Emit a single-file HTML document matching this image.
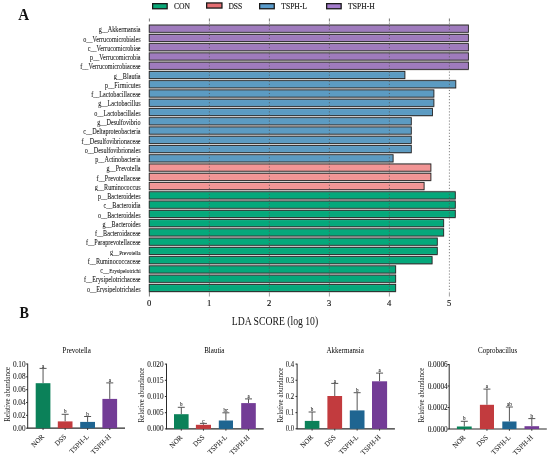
<!DOCTYPE html><html><head><meta charset="utf-8"><style>html,body{margin:0;padding:0;background:#fff;}svg{display:block;}text{filter:grayscale(1);}text{font-family:"Liberation Serif", serif;}</style></head><body>
<svg width="550" height="458" viewBox="0 0 550 458">
<rect width="550" height="458" fill="#fff"/>
<text transform="translate(18.20,20.20) scale(1,1.09)" font-size="15.1" font-weight="bold" fill="#111">A</text>
<text transform="translate(19.60,317.70) scale(1,1.12)" font-size="14.2" font-weight="bold" fill="#111">B</text>
<rect x="152.65" y="3.65" width="14.50000000000001" height="5.1000000000000005" fill="#0aa878" stroke="#1a1a1a" stroke-width="1.3"/>
<text transform="translate(174.00,9.45) scale(1,1.12)" font-size="7.6" fill="#1a1a1a" stroke="#1a1a1a" stroke-width="0.15">CON</text>
<rect x="206.65" y="2.9499999999999997" width="15.299999999999994" height="5.1000000000000005" fill="#e46e72" stroke="#1a1a1a" stroke-width="1.3"/>
<text transform="translate(228.40,9.45) scale(1,1.12)" font-size="7.6" fill="#1a1a1a" stroke="#1a1a1a" stroke-width="0.15">DSS</text>
<rect x="259.65" y="3.65" width="14.599999999999977" height="5.1000000000000005" fill="#5a9ccc" stroke="#1a1a1a" stroke-width="1.3"/>
<text transform="translate(281.30,9.45) scale(1,1.12)" font-size="7.6" fill="#1a1a1a" stroke="#1a1a1a" stroke-width="0.15">TSPH-L</text>
<rect x="326.65" y="3.65" width="14.50000000000001" height="5.1000000000000005" fill="#a47ccc" stroke="#1a1a1a" stroke-width="1.3"/>
<text transform="translate(348.10,9.45) scale(1,1.12)" font-size="7.6" fill="#1a1a1a" stroke="#1a1a1a" stroke-width="0.15">TSPH-H</text>
<defs>
<linearGradient id="g9f7bbd" x1="0" y1="0" x2="0" y2="1"><stop offset="0" stop-color="#b092c8"/><stop offset="0.2" stop-color="#9f7bbd"/><stop offset="0.8" stop-color="#9f7bbd"/><stop offset="1" stop-color="#a888c3"/></linearGradient>
<linearGradient id="g5c9bc2" x1="0" y1="0" x2="0" y2="1"><stop offset="0" stop-color="#79adcc"/><stop offset="0.2" stop-color="#5c9bc2"/><stop offset="0.8" stop-color="#5c9bc2"/><stop offset="1" stop-color="#6ca5c8"/></linearGradient>
<linearGradient id="gf29595" x1="0" y1="0" x2="0" y2="1"><stop offset="0" stop-color="#f4a8a8"/><stop offset="0.2" stop-color="#f29595"/><stop offset="0.8" stop-color="#f29595"/><stop offset="1" stop-color="#f39f9f"/></linearGradient>
<linearGradient id="g05a87b" x1="0" y1="0" x2="0" y2="1"><stop offset="0" stop-color="#32b792"/><stop offset="0.2" stop-color="#05a87b"/><stop offset="0.8" stop-color="#05a87b"/><stop offset="1" stop-color="#1eb088"/></linearGradient>
</defs>
<rect x="148.80" y="24.07" width="320.00" height="9.27" fill="#c4c0c0"/>
<rect x="149.23" y="25.12" width="319.15" height="7.16" fill="url(#g9f7bbd)" stroke="#222" stroke-width="0.85"/>
<text transform="translate(140.60,32.41) scale(1,1.18)" font-size="6.15" text-anchor="end" fill="#1a1a1a" stroke="#1a1a1a" stroke-width="0.07">g__Akkermansia</text>
<rect x="148.80" y="33.33" width="320.00" height="9.27" fill="#c4c0c0"/>
<rect x="149.23" y="34.38" width="319.15" height="7.16" fill="url(#g9f7bbd)" stroke="#222" stroke-width="0.85"/>
<text transform="translate(140.60,41.67) scale(1,1.18)" font-size="6.15" text-anchor="end" fill="#1a1a1a" stroke="#1a1a1a" stroke-width="0.07">o__Verrucomicrobiales</text>
<rect x="148.80" y="42.59" width="320.00" height="9.27" fill="#c4c0c0"/>
<rect x="149.23" y="43.64" width="319.15" height="7.16" fill="url(#g9f7bbd)" stroke="#222" stroke-width="0.85"/>
<text transform="translate(140.60,50.93) scale(1,1.18)" font-size="6.15" text-anchor="end" fill="#1a1a1a" stroke="#1a1a1a" stroke-width="0.07">c__Verrucomicrobiae</text>
<rect x="148.80" y="51.85" width="320.00" height="9.27" fill="#c4c0c0"/>
<rect x="149.23" y="52.91" width="319.15" height="7.16" fill="url(#g9f7bbd)" stroke="#222" stroke-width="0.85"/>
<text transform="translate(140.60,60.19) scale(1,1.18)" font-size="6.15" text-anchor="end" fill="#1a1a1a" stroke="#1a1a1a" stroke-width="0.07">p__Verrucomicrobia</text>
<rect x="148.80" y="61.11" width="320.00" height="9.27" fill="#c4c0c0"/>
<rect x="149.23" y="62.16" width="319.15" height="7.16" fill="url(#g9f7bbd)" stroke="#222" stroke-width="0.85"/>
<text transform="translate(140.60,69.44) scale(1,1.18)" font-size="6.15" text-anchor="end" fill="#1a1a1a" stroke="#1a1a1a" stroke-width="0.07">f__Verrucomicrobiaceae</text>
<rect x="148.80" y="70.37" width="256.50" height="9.27" fill="#c4c0c0"/>
<rect x="149.23" y="71.42" width="255.65" height="7.16" fill="url(#g5c9bc2)" stroke="#222" stroke-width="0.85"/>
<text transform="translate(140.60,78.70) scale(1,1.18)" font-size="6.15" text-anchor="end" fill="#1a1a1a" stroke="#1a1a1a" stroke-width="0.07">g__Blautia</text>
<rect x="148.80" y="79.63" width="307.40" height="9.27" fill="#c4c0c0"/>
<rect x="149.23" y="80.69" width="306.55" height="7.16" fill="url(#g5c9bc2)" stroke="#222" stroke-width="0.85"/>
<text transform="translate(140.60,87.97) scale(1,1.18)" font-size="6.15" text-anchor="end" fill="#1a1a1a" stroke="#1a1a1a" stroke-width="0.07">p__Firmicutes</text>
<rect x="148.80" y="88.89" width="285.50" height="9.27" fill="#c4c0c0"/>
<rect x="149.23" y="89.94" width="284.65" height="7.16" fill="url(#g5c9bc2)" stroke="#222" stroke-width="0.85"/>
<text transform="translate(140.60,97.22) scale(1,1.18)" font-size="6.15" text-anchor="end" fill="#1a1a1a" stroke="#1a1a1a" stroke-width="0.07">f__Lactobacillaceae</text>
<rect x="148.80" y="98.15" width="285.50" height="9.27" fill="#c4c0c0"/>
<rect x="149.23" y="99.20" width="284.65" height="7.16" fill="url(#g5c9bc2)" stroke="#222" stroke-width="0.85"/>
<text transform="translate(140.60,106.48) scale(1,1.18)" font-size="6.15" text-anchor="end" fill="#1a1a1a" stroke="#1a1a1a" stroke-width="0.07">g__Lactobacillus</text>
<rect x="148.80" y="107.41" width="284.10" height="9.27" fill="#c4c0c0"/>
<rect x="149.23" y="108.47" width="283.25" height="7.16" fill="url(#g5c9bc2)" stroke="#222" stroke-width="0.85"/>
<text transform="translate(140.60,115.75) scale(1,1.18)" font-size="6.15" text-anchor="end" fill="#1a1a1a" stroke="#1a1a1a" stroke-width="0.07">o__Lactobacillales</text>
<rect x="148.80" y="116.67" width="262.90" height="9.27" fill="#c4c0c0"/>
<rect x="149.23" y="117.72" width="262.05" height="7.16" fill="url(#g5c9bc2)" stroke="#222" stroke-width="0.85"/>
<text transform="translate(140.60,125.00) scale(1,1.18)" font-size="6.15" text-anchor="end" fill="#1a1a1a" stroke="#1a1a1a" stroke-width="0.07">g__Desulfovibrio</text>
<rect x="148.80" y="125.93" width="262.90" height="9.27" fill="#c4c0c0"/>
<rect x="149.23" y="126.98" width="262.05" height="7.16" fill="url(#g5c9bc2)" stroke="#222" stroke-width="0.85"/>
<text transform="translate(140.60,134.26) scale(1,1.18)" font-size="6.15" text-anchor="end" fill="#1a1a1a" stroke="#1a1a1a" stroke-width="0.07">c__Deltaproteobacteria</text>
<rect x="148.80" y="135.19" width="262.90" height="9.27" fill="#c4c0c0"/>
<rect x="149.23" y="136.25" width="262.05" height="7.16" fill="url(#g5c9bc2)" stroke="#222" stroke-width="0.85"/>
<text transform="translate(140.60,143.52) scale(1,1.18)" font-size="6.15" text-anchor="end" fill="#1a1a1a" stroke="#1a1a1a" stroke-width="0.07">f__Desulfovibrionaceae</text>
<rect x="148.80" y="144.45" width="262.90" height="9.27" fill="#c4c0c0"/>
<rect x="149.23" y="145.50" width="262.05" height="7.16" fill="url(#g5c9bc2)" stroke="#222" stroke-width="0.85"/>
<text transform="translate(140.60,152.78) scale(1,1.18)" font-size="6.15" text-anchor="end" fill="#1a1a1a" stroke="#1a1a1a" stroke-width="0.07">o__Desulfovibrionales</text>
<rect x="148.80" y="153.71" width="244.70" height="9.27" fill="#c4c0c0"/>
<rect x="149.23" y="154.76" width="243.85" height="7.16" fill="url(#g5c9bc2)" stroke="#222" stroke-width="0.85"/>
<text transform="translate(140.60,162.04) scale(1,1.18)" font-size="6.15" text-anchor="end" fill="#1a1a1a" stroke="#1a1a1a" stroke-width="0.07">p__Actinobacteria</text>
<rect x="148.80" y="162.97" width="282.50" height="9.27" fill="#c4c0c0"/>
<rect x="149.23" y="164.03" width="281.65" height="7.16" fill="url(#gf29595)" stroke="#222" stroke-width="0.85"/>
<text transform="translate(140.60,171.30) scale(1,1.18)" font-size="6.15" text-anchor="end" fill="#1a1a1a" stroke="#1a1a1a" stroke-width="0.07">g__Prevotella</text>
<rect x="148.80" y="172.23" width="282.50" height="9.27" fill="#c4c0c0"/>
<rect x="149.23" y="173.28" width="281.65" height="7.16" fill="url(#gf29595)" stroke="#222" stroke-width="0.85"/>
<text transform="translate(140.60,180.56) scale(1,1.18)" font-size="6.15" text-anchor="end" fill="#1a1a1a" stroke="#1a1a1a" stroke-width="0.07">f__Prevotellaceae</text>
<rect x="148.80" y="181.49" width="275.70" height="9.27" fill="#c4c0c0"/>
<rect x="149.23" y="182.54" width="274.85" height="7.16" fill="url(#gf29595)" stroke="#222" stroke-width="0.85"/>
<text transform="translate(140.60,189.82) scale(1,1.18)" font-size="6.15" text-anchor="end" fill="#1a1a1a" stroke="#1a1a1a" stroke-width="0.07">g__Ruminococcus</text>
<rect x="148.80" y="190.75" width="306.90" height="9.27" fill="#c4c0c0"/>
<rect x="149.23" y="191.81" width="306.05" height="7.16" fill="url(#g05a87b)" stroke="#222" stroke-width="0.85"/>
<text transform="translate(140.60,199.08) scale(1,1.18)" font-size="6.15" text-anchor="end" fill="#1a1a1a" stroke="#1a1a1a" stroke-width="0.07">p__Bacteroidetes</text>
<rect x="148.80" y="200.01" width="306.90" height="9.27" fill="#c4c0c0"/>
<rect x="149.23" y="201.06" width="306.05" height="7.16" fill="url(#g05a87b)" stroke="#222" stroke-width="0.85"/>
<text transform="translate(140.60,208.34) scale(1,1.18)" font-size="6.15" text-anchor="end" fill="#1a1a1a" stroke="#1a1a1a" stroke-width="0.07">c__Bacteroidia</text>
<rect x="148.80" y="209.27" width="306.90" height="9.27" fill="#c4c0c0"/>
<rect x="149.23" y="210.32" width="306.05" height="7.16" fill="url(#g05a87b)" stroke="#222" stroke-width="0.85"/>
<text transform="translate(140.60,217.60) scale(1,1.18)" font-size="6.15" text-anchor="end" fill="#1a1a1a" stroke="#1a1a1a" stroke-width="0.07">o__Bacteroidales</text>
<rect x="148.80" y="218.53" width="295.30" height="9.27" fill="#c4c0c0"/>
<rect x="149.23" y="219.59" width="294.45" height="7.16" fill="url(#g05a87b)" stroke="#222" stroke-width="0.85"/>
<text transform="translate(140.60,226.86) scale(1,1.18)" font-size="6.15" text-anchor="end" fill="#1a1a1a" stroke="#1a1a1a" stroke-width="0.07">g__Bacteroides</text>
<rect x="148.80" y="227.79" width="295.30" height="9.27" fill="#c4c0c0"/>
<rect x="149.23" y="228.84" width="294.45" height="7.16" fill="url(#g05a87b)" stroke="#222" stroke-width="0.85"/>
<text transform="translate(140.60,236.12) scale(1,1.18)" font-size="6.15" text-anchor="end" fill="#1a1a1a" stroke="#1a1a1a" stroke-width="0.07">f__Bacteroidaceae</text>
<rect x="148.80" y="237.05" width="288.90" height="9.27" fill="#c4c0c0"/>
<rect x="149.23" y="238.10" width="288.05" height="7.16" fill="url(#g05a87b)" stroke="#222" stroke-width="0.85"/>
<text transform="translate(140.60,245.38) scale(1,1.18)" font-size="6.15" text-anchor="end" fill="#1a1a1a" stroke="#1a1a1a" stroke-width="0.07">f__Paraprevotellaceae</text>
<rect x="148.80" y="246.31" width="288.90" height="9.27" fill="#c4c0c0"/>
<rect x="149.23" y="247.37" width="288.05" height="7.16" fill="url(#g05a87b)" stroke="#222" stroke-width="0.85"/>
<text transform="translate(140.60,254.64) scale(1,1.18)" font-size="6.15" text-anchor="end" fill="#1a1a1a" stroke="#1a1a1a" stroke-width="0.07">g__<tspan font-size="5.3">Prevotella</tspan></text>
<rect x="148.80" y="255.57" width="283.70" height="9.27" fill="#c4c0c0"/>
<rect x="149.23" y="256.62" width="282.85" height="7.16" fill="url(#g05a87b)" stroke="#222" stroke-width="0.85"/>
<text transform="translate(140.60,263.90) scale(1,1.18)" font-size="6.15" text-anchor="end" fill="#1a1a1a" stroke="#1a1a1a" stroke-width="0.07">f__Ruminococcaceae</text>
<rect x="148.80" y="264.83" width="247.30" height="9.27" fill="#c4c0c0"/>
<rect x="149.23" y="265.88" width="246.45" height="7.16" fill="url(#g05a87b)" stroke="#222" stroke-width="0.85"/>
<text transform="translate(140.60,273.16) scale(1,1.18)" font-size="6.15" text-anchor="end" fill="#1a1a1a" stroke="#1a1a1a" stroke-width="0.07">c__<tspan font-size="5.3">Erysipelotrichi</tspan></text>
<rect x="148.80" y="274.09" width="247.30" height="9.27" fill="#c4c0c0"/>
<rect x="149.23" y="275.14" width="246.45" height="7.16" fill="url(#g05a87b)" stroke="#222" stroke-width="0.85"/>
<text transform="translate(140.60,282.42) scale(1,1.18)" font-size="6.15" text-anchor="end" fill="#1a1a1a" stroke="#1a1a1a" stroke-width="0.07">f__Erysipelotrichaceae</text>
<rect x="148.80" y="283.35" width="247.30" height="9.27" fill="#c4c0c0"/>
<rect x="149.23" y="284.40" width="246.45" height="7.16" fill="url(#g05a87b)" stroke="#222" stroke-width="0.85"/>
<text transform="translate(140.60,291.68) scale(1,1.18)" font-size="6.15" text-anchor="end" fill="#1a1a1a" stroke="#1a1a1a" stroke-width="0.07">o__Erysipelotrichales</text>
<line x1="149.4" y1="18.5" x2="149.4" y2="21.5" stroke="#555" stroke-width="0.8"/><line x1="149.4" y1="292" x2="149.4" y2="296.5" stroke="#555" stroke-width="0.8"/>
<text transform="translate(149.20,306.20) scale(1,1.02)" font-size="8.6" text-anchor="middle" fill="#111" stroke="#111" stroke-width="0.15">0</text>
<line x1="209.4" y1="18.5" x2="209.4" y2="21.5" stroke="#555" stroke-width="0.8"/><line x1="209.4" y1="292.3" x2="209.4" y2="296.5" stroke="#888" stroke-width="0.8"/>
<line x1="209.4" y1="22.6" x2="209.4" y2="292" stroke="#555" stroke-width="0.8" stroke-dasharray="1.1,1.96"/>
<text transform="translate(209.20,306.20) scale(1,1.02)" font-size="8.6" text-anchor="middle" fill="#111" stroke="#111" stroke-width="0.15">1</text>
<line x1="269.4" y1="18.5" x2="269.4" y2="21.5" stroke="#555" stroke-width="0.8"/><line x1="269.4" y1="292.3" x2="269.4" y2="296.5" stroke="#888" stroke-width="0.8"/>
<line x1="269.4" y1="22.6" x2="269.4" y2="292" stroke="#555" stroke-width="0.8" stroke-dasharray="1.1,1.96"/>
<text transform="translate(269.20,306.20) scale(1,1.02)" font-size="8.6" text-anchor="middle" fill="#111" stroke="#111" stroke-width="0.15">2</text>
<line x1="329.4" y1="18.5" x2="329.4" y2="21.5" stroke="#555" stroke-width="0.8"/><line x1="329.4" y1="292.3" x2="329.4" y2="296.5" stroke="#888" stroke-width="0.8"/>
<line x1="329.4" y1="22.6" x2="329.4" y2="292" stroke="#555" stroke-width="0.8" stroke-dasharray="1.1,1.96"/>
<text transform="translate(329.20,306.20) scale(1,1.02)" font-size="8.6" text-anchor="middle" fill="#111" stroke="#111" stroke-width="0.15">3</text>
<line x1="389.4" y1="18.5" x2="389.4" y2="21.5" stroke="#555" stroke-width="0.8"/><line x1="389.4" y1="292.3" x2="389.4" y2="296.5" stroke="#888" stroke-width="0.8"/>
<line x1="389.4" y1="22.6" x2="389.4" y2="292" stroke="#555" stroke-width="0.8" stroke-dasharray="1.1,1.96"/>
<text transform="translate(389.20,306.20) scale(1,1.02)" font-size="8.6" text-anchor="middle" fill="#111" stroke="#111" stroke-width="0.15">4</text>
<line x1="449.4" y1="18.5" x2="449.4" y2="21.5" stroke="#555" stroke-width="0.8"/><line x1="449.4" y1="292.3" x2="449.4" y2="296.5" stroke="#888" stroke-width="0.8"/>
<line x1="449.4" y1="22.6" x2="449.4" y2="292" stroke="#555" stroke-width="0.8" stroke-dasharray="1.1,1.96"/>
<text transform="translate(449.20,306.20) scale(1,1.02)" font-size="8.6" text-anchor="middle" fill="#111" stroke="#111" stroke-width="0.15">5</text>
<text transform="translate(275.00,324.90) scale(1,1.26)" font-size="9.7" text-anchor="middle" fill="#111">LDA SCORE (log 10)</text>
<text transform="translate(76.70,353.30) scale(1,1.06)" font-size="7.0" text-anchor="middle" fill="#000">Prevotella</text>
<line x1="27.7" y1="363.6" x2="27.7" y2="428.2" stroke="#2a2a2a" stroke-width="1"/>
<line x1="27.2" y1="428.2" x2="125" y2="428.2" stroke="#2a2a2a" stroke-width="1.2"/>
<line x1="26.099999999999998" y1="364.0" x2="27.7" y2="364.0" stroke="#2a2a2a" stroke-width="1"/>
<text transform="translate(25.60,366.50) scale(1,1.02)" font-size="7.25" text-anchor="end" fill="#222" stroke="#222" stroke-width="0.08">0.10</text>
<line x1="26.099999999999998" y1="376.84" x2="27.7" y2="376.84" stroke="#2a2a2a" stroke-width="1"/>
<text transform="translate(25.60,379.34) scale(1,1.02)" font-size="7.25" text-anchor="end" fill="#222" stroke="#222" stroke-width="0.08">0.08</text>
<line x1="26.099999999999998" y1="389.68" x2="27.7" y2="389.68" stroke="#2a2a2a" stroke-width="1"/>
<text transform="translate(25.60,392.18) scale(1,1.02)" font-size="7.25" text-anchor="end" fill="#222" stroke="#222" stroke-width="0.08">0.06</text>
<line x1="26.099999999999998" y1="402.52" x2="27.7" y2="402.52" stroke="#2a2a2a" stroke-width="1"/>
<text transform="translate(25.60,405.02) scale(1,1.02)" font-size="7.25" text-anchor="end" fill="#222" stroke="#222" stroke-width="0.08">0.04</text>
<line x1="26.099999999999998" y1="415.36" x2="27.7" y2="415.36" stroke="#2a2a2a" stroke-width="1"/>
<text transform="translate(25.60,417.86) scale(1,1.02)" font-size="7.25" text-anchor="end" fill="#222" stroke="#222" stroke-width="0.08">0.02</text>
<line x1="26.099999999999998" y1="428.2" x2="27.7" y2="428.2" stroke="#2a2a2a" stroke-width="1"/>
<text transform="translate(25.60,430.70) scale(1,1.02)" font-size="7.25" text-anchor="end" fill="#222" stroke="#222" stroke-width="0.08">0.00</text>
<text transform="translate(9.60,394.30) rotate(-90) scale(1,1.05)" font-size="7.0" text-anchor="middle" fill="#222">Relative abundance</text>
<line x1="43.05" y1="383.2" x2="43.05" y2="368.4" stroke="#555" stroke-width="1"/>
<line x1="39.55" y1="368.4" x2="46.55" y2="368.4" stroke="#555" stroke-width="1"/>
<rect x="35.7" y="383.2" width="14.699999999999996" height="45.0" fill="#0b8159"/>
<line x1="43.05" y1="428.2" x2="43.05" y2="430.0" stroke="#2a2a2a" stroke-width="0.9"/>
<text transform="translate(43.05,367.50) scale(1,1.12)" font-size="5.0" text-anchor="middle" fill="#222" stroke="#222" stroke-width="0.08">a</text>
<text transform="translate(44.65,437.10) rotate(-45) scale(1,1.0)" font-size="7.1" text-anchor="end" fill="#222" stroke="#222" stroke-width="0.06">NOR</text>
<line x1="65.15" y1="421.4" x2="65.15" y2="414.3" stroke="#555" stroke-width="1"/>
<line x1="61.650000000000006" y1="414.3" x2="68.65" y2="414.3" stroke="#555" stroke-width="1"/>
<rect x="57.8" y="421.4" width="14.700000000000003" height="6.800000000000011" fill="#c23b3e"/>
<line x1="65.15" y1="428.2" x2="65.15" y2="430.0" stroke="#2a2a2a" stroke-width="0.9"/>
<text transform="translate(65.15,413.40) scale(1,1.12)" font-size="5.0" text-anchor="middle" fill="#222" stroke="#222" stroke-width="0.08">b</text>
<text transform="translate(66.75,437.10) rotate(-45) scale(1,1.0)" font-size="7.1" text-anchor="end" fill="#222" stroke="#222" stroke-width="0.06">DSS</text>
<line x1="87.6" y1="421.9" x2="87.6" y2="416.5" stroke="#555" stroke-width="1"/>
<line x1="84.1" y1="416.5" x2="91.1" y2="416.5" stroke="#555" stroke-width="1"/>
<rect x="80.2" y="421.9" width="14.799999999999997" height="6.300000000000011" fill="#1f6591"/>
<line x1="87.6" y1="428.2" x2="87.6" y2="430.0" stroke="#2a2a2a" stroke-width="0.9"/>
<text transform="translate(87.60,415.60) scale(1,1.12)" font-size="5.0" text-anchor="middle" fill="#222" stroke="#222" stroke-width="0.08">b</text>
<text transform="translate(89.20,437.10) rotate(-45) scale(1,1.0)" font-size="7.1" text-anchor="end" fill="#222" stroke="#222" stroke-width="0.06">TSPH-L</text>
<line x1="109.75" y1="398.9" x2="109.75" y2="382.9" stroke="#555" stroke-width="1"/>
<line x1="106.25" y1="382.9" x2="113.25" y2="382.9" stroke="#555" stroke-width="1"/>
<rect x="102.4" y="398.9" width="14.699999999999989" height="29.30000000000001" fill="#733c96"/>
<line x1="109.75" y1="428.2" x2="109.75" y2="430.0" stroke="#2a2a2a" stroke-width="0.9"/>
<text transform="translate(109.75,382.00) scale(1,1.12)" font-size="5.0" text-anchor="middle" fill="#222" stroke="#222" stroke-width="0.08">a</text>
<text transform="translate(111.35,437.10) rotate(-45) scale(1,1.0)" font-size="7.1" text-anchor="end" fill="#222" stroke="#222" stroke-width="0.06">TSPH-H</text>
<text transform="translate(214.30,353.30) scale(1,1.06)" font-size="7.0" text-anchor="middle" fill="#000">Blautia</text>
<line x1="166.5" y1="363.70000000000005" x2="166.5" y2="428.9" stroke="#2a2a2a" stroke-width="1"/>
<line x1="166.0" y1="428.9" x2="263.7" y2="428.9" stroke="#2a2a2a" stroke-width="1.2"/>
<line x1="164.9" y1="364.1" x2="166.5" y2="364.1" stroke="#2a2a2a" stroke-width="1"/>
<text transform="translate(163.50,366.60) scale(1,1.02)" font-size="7.25" text-anchor="end" fill="#222" stroke="#222" stroke-width="0.08">0.020</text>
<line x1="164.9" y1="380.3" x2="166.5" y2="380.3" stroke="#2a2a2a" stroke-width="1"/>
<text transform="translate(163.50,382.80) scale(1,1.02)" font-size="7.25" text-anchor="end" fill="#222" stroke="#222" stroke-width="0.08">0.015</text>
<line x1="164.9" y1="396.5" x2="166.5" y2="396.5" stroke="#2a2a2a" stroke-width="1"/>
<text transform="translate(163.50,399.00) scale(1,1.02)" font-size="7.25" text-anchor="end" fill="#222" stroke="#222" stroke-width="0.08">0.010</text>
<line x1="164.9" y1="412.70000000000005" x2="166.5" y2="412.70000000000005" stroke="#2a2a2a" stroke-width="1"/>
<text transform="translate(163.50,415.20) scale(1,1.02)" font-size="7.25" text-anchor="end" fill="#222" stroke="#222" stroke-width="0.08">0.005</text>
<line x1="164.9" y1="428.90000000000003" x2="166.5" y2="428.90000000000003" stroke="#2a2a2a" stroke-width="1"/>
<text transform="translate(163.50,431.40) scale(1,1.02)" font-size="7.25" text-anchor="end" fill="#222" stroke="#222" stroke-width="0.08">0.000</text>
<text transform="translate(144.30,395.00) rotate(-90) scale(1,1.05)" font-size="7.0" text-anchor="middle" fill="#222">Relative abundance</text>
<line x1="181.3" y1="414.2" x2="181.3" y2="407.3" stroke="#555" stroke-width="1"/>
<line x1="177.8" y1="407.3" x2="184.8" y2="407.3" stroke="#555" stroke-width="1"/>
<rect x="174" y="414.2" width="14.599999999999994" height="14.699999999999989" fill="#0b8159"/>
<line x1="181.3" y1="428.9" x2="181.3" y2="430.7" stroke="#2a2a2a" stroke-width="0.9"/>
<text transform="translate(181.30,406.40) scale(1,1.12)" font-size="5.0" text-anchor="middle" fill="#222" stroke="#222" stroke-width="0.08">b</text>
<text transform="translate(182.90,437.80) rotate(-45) scale(1,1.0)" font-size="7.1" text-anchor="end" fill="#222" stroke="#222" stroke-width="0.06">NOR</text>
<line x1="203.45" y1="424.8" x2="203.45" y2="423.4" stroke="#555" stroke-width="1"/>
<line x1="199.95" y1="423.4" x2="206.95" y2="423.4" stroke="#555" stroke-width="1"/>
<rect x="195.9" y="424.8" width="15.099999999999994" height="4.099999999999966" fill="#c23b3e"/>
<line x1="203.45" y1="428.9" x2="203.45" y2="430.7" stroke="#2a2a2a" stroke-width="0.9"/>
<text transform="translate(203.45,422.50) scale(1,1.12)" font-size="5.0" text-anchor="middle" fill="#222" stroke="#222" stroke-width="0.08">c</text>
<text transform="translate(205.05,437.80) rotate(-45) scale(1,1.0)" font-size="7.1" text-anchor="end" fill="#222" stroke="#222" stroke-width="0.06">DSS</text>
<line x1="225.9" y1="420.5" x2="225.9" y2="412.8" stroke="#555" stroke-width="1"/>
<line x1="222.4" y1="412.8" x2="229.4" y2="412.8" stroke="#555" stroke-width="1"/>
<rect x="218.8" y="420.5" width="14.199999999999989" height="8.399999999999977" fill="#1f6591"/>
<line x1="225.9" y1="428.9" x2="225.9" y2="430.7" stroke="#2a2a2a" stroke-width="0.9"/>
<text transform="translate(225.90,411.90) scale(1,1.12)" font-size="5.0" text-anchor="middle" fill="#222" stroke="#222" stroke-width="0.08">bc</text>
<text transform="translate(227.50,437.80) rotate(-45) scale(1,1.0)" font-size="7.1" text-anchor="end" fill="#222" stroke="#222" stroke-width="0.06">TSPH-L</text>
<line x1="248.5" y1="403.1" x2="248.5" y2="398.9" stroke="#555" stroke-width="1"/>
<line x1="245.0" y1="398.9" x2="252.0" y2="398.9" stroke="#555" stroke-width="1"/>
<rect x="241.2" y="403.1" width="14.600000000000023" height="25.799999999999955" fill="#733c96"/>
<line x1="248.5" y1="428.9" x2="248.5" y2="430.7" stroke="#2a2a2a" stroke-width="0.9"/>
<text transform="translate(248.50,398.00) scale(1,1.12)" font-size="5.0" text-anchor="middle" fill="#222" stroke="#222" stroke-width="0.08">a</text>
<text transform="translate(250.10,437.80) rotate(-45) scale(1,1.0)" font-size="7.1" text-anchor="end" fill="#222" stroke="#222" stroke-width="0.06">TSPH-H</text>
<text transform="translate(345.20,353.30) scale(1,1.06)" font-size="7.0" text-anchor="middle" fill="#000">Akkermansia</text>
<line x1="297.1" y1="363.70000000000005" x2="297.1" y2="428.8" stroke="#2a2a2a" stroke-width="1"/>
<line x1="296.6" y1="428.8" x2="394.9" y2="428.8" stroke="#2a2a2a" stroke-width="1.2"/>
<line x1="295.5" y1="364.1" x2="297.1" y2="364.1" stroke="#2a2a2a" stroke-width="1"/>
<text transform="translate(294.10,366.60) scale(1,1.0820895522388059)" font-size="6.7" text-anchor="end" fill="#222" stroke="#222" stroke-width="0.08">0.4</text>
<line x1="295.5" y1="380.27500000000003" x2="297.1" y2="380.27500000000003" stroke="#2a2a2a" stroke-width="1"/>
<text transform="translate(294.10,382.78) scale(1,1.0820895522388059)" font-size="6.7" text-anchor="end" fill="#222" stroke="#222" stroke-width="0.08">0.3</text>
<line x1="295.5" y1="396.45000000000005" x2="297.1" y2="396.45000000000005" stroke="#2a2a2a" stroke-width="1"/>
<text transform="translate(294.10,398.95) scale(1,1.0820895522388059)" font-size="6.7" text-anchor="end" fill="#222" stroke="#222" stroke-width="0.08">0.2</text>
<line x1="295.5" y1="412.625" x2="297.1" y2="412.625" stroke="#2a2a2a" stroke-width="1"/>
<text transform="translate(294.10,415.12) scale(1,1.0820895522388059)" font-size="6.7" text-anchor="end" fill="#222" stroke="#222" stroke-width="0.08">0.1</text>
<line x1="295.5" y1="428.8" x2="297.1" y2="428.8" stroke="#2a2a2a" stroke-width="1"/>
<text transform="translate(294.10,431.30) scale(1,1.0820895522388059)" font-size="6.7" text-anchor="end" fill="#222" stroke="#222" stroke-width="0.08">0.0</text>
<text transform="translate(282.60,395.20) rotate(-90) scale(1,1.05)" font-size="7.0" text-anchor="middle" fill="#222">Relative abundance</text>
<line x1="312.1" y1="420.9" x2="312.1" y2="412" stroke="#555" stroke-width="1"/>
<line x1="308.6" y1="412" x2="315.6" y2="412" stroke="#555" stroke-width="1"/>
<rect x="304.8" y="420.9" width="14.599999999999966" height="7.900000000000034" fill="#0b8159"/>
<line x1="312.1" y1="428.8" x2="312.1" y2="430.6" stroke="#2a2a2a" stroke-width="0.9"/>
<text transform="translate(312.10,411.10) scale(1,1.12)" font-size="5.0" text-anchor="middle" fill="#222" stroke="#222" stroke-width="0.08">b</text>
<text transform="translate(313.70,437.70) rotate(-45) scale(1,1.0)" font-size="7.1" text-anchor="end" fill="#222" stroke="#222" stroke-width="0.06">NOR</text>
<line x1="334.75" y1="396.0" x2="334.75" y2="383.4" stroke="#555" stroke-width="1"/>
<line x1="331.25" y1="383.4" x2="338.25" y2="383.4" stroke="#555" stroke-width="1"/>
<rect x="327.4" y="396.0" width="14.700000000000045" height="32.80000000000001" fill="#c23b3e"/>
<line x1="334.75" y1="428.8" x2="334.75" y2="430.6" stroke="#2a2a2a" stroke-width="0.9"/>
<text transform="translate(334.75,382.50) scale(1,1.12)" font-size="5.0" text-anchor="middle" fill="#222" stroke="#222" stroke-width="0.08">a</text>
<text transform="translate(336.35,437.70) rotate(-45) scale(1,1.0)" font-size="7.1" text-anchor="end" fill="#222" stroke="#222" stroke-width="0.06">DSS</text>
<line x1="357.15" y1="410.4" x2="357.15" y2="392.7" stroke="#555" stroke-width="1"/>
<line x1="353.65" y1="392.7" x2="360.65" y2="392.7" stroke="#555" stroke-width="1"/>
<rect x="349.8" y="410.4" width="14.699999999999989" height="18.400000000000034" fill="#1f6591"/>
<line x1="357.15" y1="428.8" x2="357.15" y2="430.6" stroke="#2a2a2a" stroke-width="0.9"/>
<text transform="translate(357.15,391.80) scale(1,1.12)" font-size="5.0" text-anchor="middle" fill="#222" stroke="#222" stroke-width="0.08">b</text>
<text transform="translate(358.75,437.70) rotate(-45) scale(1,1.0)" font-size="7.1" text-anchor="end" fill="#222" stroke="#222" stroke-width="0.06">TSPH-L</text>
<line x1="379.55" y1="381.3" x2="379.55" y2="373.1" stroke="#555" stroke-width="1"/>
<line x1="376.05" y1="373.1" x2="383.05" y2="373.1" stroke="#555" stroke-width="1"/>
<rect x="372" y="381.3" width="15.100000000000023" height="47.5" fill="#733c96"/>
<line x1="379.55" y1="428.8" x2="379.55" y2="430.6" stroke="#2a2a2a" stroke-width="0.9"/>
<text transform="translate(379.55,372.20) scale(1,1.12)" font-size="5.0" text-anchor="middle" fill="#222" stroke="#222" stroke-width="0.08">a</text>
<text transform="translate(381.15,437.70) rotate(-45) scale(1,1.0)" font-size="7.1" text-anchor="end" fill="#222" stroke="#222" stroke-width="0.06">TSPH-H</text>
<text transform="translate(497.60,353.30) scale(1,1.06)" font-size="7.0" text-anchor="middle" fill="#000">Coprobacillus</text>
<line x1="449.2" y1="364.1" x2="449.2" y2="429.0" stroke="#2a2a2a" stroke-width="1"/>
<line x1="448.7" y1="429.0" x2="546.8" y2="429.0" stroke="#2a2a2a" stroke-width="1.2"/>
<line x1="447.59999999999997" y1="364.5" x2="449.2" y2="364.5" stroke="#2a2a2a" stroke-width="1"/>
<text transform="translate(447.70,367.00) scale(1,1.02)" font-size="7.3" text-anchor="end" fill="#222" stroke="#222" stroke-width="0.08">0.0006</text>
<line x1="447.59999999999997" y1="386.0" x2="449.2" y2="386.0" stroke="#2a2a2a" stroke-width="1"/>
<text transform="translate(447.70,388.50) scale(1,1.02)" font-size="7.3" text-anchor="end" fill="#222" stroke="#222" stroke-width="0.08">0.0004</text>
<line x1="447.59999999999997" y1="407.5" x2="449.2" y2="407.5" stroke="#2a2a2a" stroke-width="1"/>
<text transform="translate(447.70,410.00) scale(1,1.02)" font-size="7.3" text-anchor="end" fill="#222" stroke="#222" stroke-width="0.08">0.0002</text>
<line x1="447.59999999999997" y1="429.0" x2="449.2" y2="429.0" stroke="#2a2a2a" stroke-width="1"/>
<text transform="translate(447.70,431.50) scale(1,1.02)" font-size="7.3" text-anchor="end" fill="#222" stroke="#222" stroke-width="0.08">0.0000</text>
<text transform="translate(424.00,395.20) rotate(-90) scale(1,1.05)" font-size="7.0" text-anchor="middle" fill="#222">Relative abundance</text>
<line x1="464.29999999999995" y1="426.5" x2="464.29999999999995" y2="421.3" stroke="#555" stroke-width="1"/>
<line x1="460.79999999999995" y1="421.3" x2="467.79999999999995" y2="421.3" stroke="#555" stroke-width="1"/>
<rect x="456.9" y="426.5" width="14.800000000000011" height="2.5" fill="#0b8159"/>
<line x1="464.29999999999995" y1="429.0" x2="464.29999999999995" y2="430.8" stroke="#2a2a2a" stroke-width="0.9"/>
<text transform="translate(464.30,420.40) scale(1,1.12)" font-size="5.0" text-anchor="middle" fill="#222" stroke="#222" stroke-width="0.08">b</text>
<text transform="translate(465.90,437.90) rotate(-45) scale(1,1.0)" font-size="7.1" text-anchor="end" fill="#222" stroke="#222" stroke-width="0.06">NOR</text>
<line x1="486.95" y1="404.8" x2="486.95" y2="389.1" stroke="#555" stroke-width="1"/>
<line x1="483.45" y1="389.1" x2="490.45" y2="389.1" stroke="#555" stroke-width="1"/>
<rect x="479.9" y="404.8" width="14.100000000000023" height="24.19999999999999" fill="#c23b3e"/>
<line x1="486.95" y1="429.0" x2="486.95" y2="430.8" stroke="#2a2a2a" stroke-width="0.9"/>
<text transform="translate(486.95,388.20) scale(1,1.12)" font-size="5.0" text-anchor="middle" fill="#222" stroke="#222" stroke-width="0.08">a</text>
<text transform="translate(488.55,437.90) rotate(-45) scale(1,1.0)" font-size="7.1" text-anchor="end" fill="#222" stroke="#222" stroke-width="0.06">DSS</text>
<line x1="509.4" y1="421.5" x2="509.4" y2="407" stroke="#555" stroke-width="1"/>
<line x1="505.9" y1="407" x2="512.9" y2="407" stroke="#555" stroke-width="1"/>
<rect x="502.3" y="421.5" width="14.199999999999989" height="7.5" fill="#1f6591"/>
<line x1="509.4" y1="429.0" x2="509.4" y2="430.8" stroke="#2a2a2a" stroke-width="0.9"/>
<text transform="translate(509.40,406.10) scale(1,1.12)" font-size="5.0" text-anchor="middle" fill="#222" stroke="#222" stroke-width="0.08">ab</text>
<text transform="translate(511.00,437.90) rotate(-45) scale(1,1.0)" font-size="7.1" text-anchor="end" fill="#222" stroke="#222" stroke-width="0.06">TSPH-L</text>
<line x1="531.8" y1="426.2" x2="531.8" y2="418.6" stroke="#555" stroke-width="1"/>
<line x1="528.3" y1="418.6" x2="535.3" y2="418.6" stroke="#555" stroke-width="1"/>
<rect x="524.5" y="426.2" width="14.600000000000023" height="2.8000000000000114" fill="#733c96"/>
<line x1="531.8" y1="429.0" x2="531.8" y2="430.8" stroke="#2a2a2a" stroke-width="0.9"/>
<text transform="translate(531.80,417.70) scale(1,1.12)" font-size="5.0" text-anchor="middle" fill="#222" stroke="#222" stroke-width="0.08">b</text>
<text transform="translate(533.40,437.90) rotate(-45) scale(1,1.0)" font-size="7.1" text-anchor="end" fill="#222" stroke="#222" stroke-width="0.06">TSPH-H</text>
</svg></body></html>
